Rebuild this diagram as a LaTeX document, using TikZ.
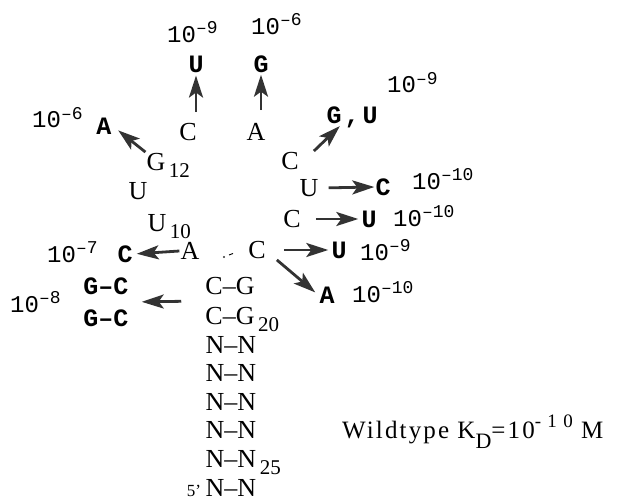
\documentclass[tikz,border=0pt]{standalone}
\usepackage{fontspec}
\setmainfont{Liberation Serif}
\newfontfamily\monofont{Liberation Mono}
\newfontfamily\widefont[LetterSpace=8.5]{Liberation Serif}
\usepackage{tikz}
\usetikzlibrary{arrows.meta}
\usetikzlibrary{calc}
\definecolor{arrowgray}{HTML}{333333}
\newcommand{\kd}[1]{10\raisebox{9pt}{\fontsize{18}{18}\selectfont\textendash#1}}
\newcommand{\subnum}[1]{\rlap{\smash{\raisebox{-7pt}{\fontsize{21}{21}\selectfont\,#1}}}}

\begin{document}
\begin{tikzpicture}[
    x=1pt, y=-1pt,
    loop nt/.style={inner sep=1pt, font=\fontsize{26}{26}\selectfont},
    stem pair/.style={inner sep=1pt, font=\fontsize{26}{26}\selectfont},
    mutant nt/.style={inner sep=1pt, font=\monofont\bfseries\fontsize{25}{25}\selectfont},
    kd label/.style={inner sep=0pt, anchor=base west, font=\monofont\fontsize{24}{24}\selectfont},
    mut arrow/.style={-{Stealth[length=22pt,width=14pt,inset=5pt]}, line width=2.8pt, draw=arrowgray, fill=arrowgray}
    ]
    \useasboundingbox (0,0) rectangle (623,500);

    % loop
    \node[loop nt] (a9) at (190,251) {A};
    \node[loop nt] (u10) at (157,223) {U\subnum{10}};
    \node[loop nt] (u11) at (138,191) {U};
    \node[loop nt] (g12) at (156,162) {G\subnum{12}};
    \node[loop nt] (c13) at (188,132) {C};
    \node[loop nt] (a14) at (256,132) {A};
    \node[loop nt] (c15) at (290,161) {C};
    \node[loop nt] (u16) at (309,188) {U};
    \node[loop nt] (c17) at (292,219) {C};
    \node[loop nt] (c18) at (257,250) {C};
    \fill[arrowgray] (224,257) circle (1.1);
    \draw[line width=0.9pt] (229,255) -- (233,253.5);

    % stem
    \node[stem pair] (p19) at (230,286) {C--G};
    \node[stem pair] (p20) at (230,316) {C--G\subnum{20}};
    \foreach \i in {21,...,26}
        \node[stem pair] (p\i) at (231,{316+(\i-20)*28.6}) {N--N\ifnum\i=25 \subnum{25}\fi};
    \node[inner sep=0pt, anchor=base, font=\fontsize{17}{17}\selectfont] (five) at (194,496) {5'};

    % mutations
    \node[mutant nt] (mu13) at (196,64) {U};
    \node[mutant nt] (mg14) at (261,64) {G};
    \node[mutant nt] (ma12) at (104,126) {A};
    \node[mutant nt] (mgu15) at (352,115) {G\kern3pt\smash{,}\kern3pt U};
    \node[mutant nt] (mc16) at (383,187) {C};
    \node[mutant nt] (mu17) at (369,219) {U};
    \node[mutant nt] (mu18) at (339,250) {U};
    \node[mutant nt] (ma18) at (327,295) {A};
    \node[mutant nt] (mc9) at (125,254) {C};
    \node[mutant nt] (m19) at (106,286) {G\textendash C};
    \node[mutant nt] (m20) at (106,318) {G\textendash C};

    % dissociation constants
    \node[kd label] (k13) at (167,43) {\kd{9}};
    \node[kd label] (k14) at (251,35) {\kd{6}};
    \node[kd label] (k12) at (32,128) {\kd{6}};
    \node[kd label] (k15) at (387,93) {\kd{9}};
    \node[kd label] (k16) at (412,189) {\kd{10}};
    \node[kd label] (k17) at (393,226) {\kd{10}};
    \node[kd label] (k18u) at (360,260) {\kd{9}};
    \node[kd label] (k18a) at (352,302) {\kd{10}};
    \node[kd label] (k9) at (47,262) {\kd{7}};
    \node[kd label] (k19) at (10,312) {\kd{8}};
    \node[inner sep=0pt, anchor=base west, font=\widefont\fontsize{25}{25}\selectfont] (wt) at (342,438)
        {Wildtype K\raisebox{-10pt}{\fontsize{22}{22}\selectfont D}=10\raisebox{11pt}{\fontsize{19}{19}\selectfont - 1 0} M};

    % arrows
    \draw[mut arrow, shorten <=10pt, shorten >=2pt] (c13.north -| mu13.south) -- (mu13.south);
    \draw[mut arrow, shorten <=12pt, shorten >=1pt] (a14.north -| mg14.south) -- (mg14.south);
    \draw[mut arrow, shorten >=7pt] (g12.north west) -- (ma12.east);
    \draw[mut arrow, shorten >=2pt] ([xshift=14pt]c15.north east) -- ([xshift=16pt]mgu15.south west);
    \draw[mut arrow, shorten <=9pt] (u16.east) -- (mc16.west);
    \draw[mut arrow, shorten <=14pt, shorten >=2pt] (c17.east) -- (mu17.west);
    \draw[mut arrow, shorten <=17pt, shorten >=2pt] (c18.east) -- (mu18.west);
    \draw[mut arrow, shorten >=4pt] ([xshift=10pt]c18.south east) -- (ma18.west);
    \draw[mut arrow, shorten >=3pt] (a9.west) -- (mc9.east);
    \draw[mut arrow, shorten <=23pt, shorten >=12pt] ($(p19.west)!.5!(p20.west)$) -- ($(m19.east)!.5!(m20.east)$);
\end{tikzpicture}
\end{document}
